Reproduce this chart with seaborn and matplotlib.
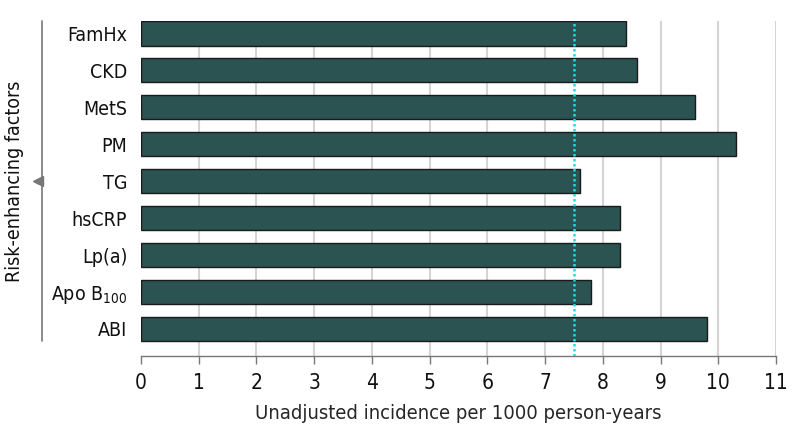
import seaborn as sns
import matplotlib.pyplot as plt
import pandas as pd

# Данные: фактор риска и нескорректированная частота на 1000 человеко-лет
factors = ['FamHx', 'CKD', 'MetS', 'PM', 'TG', 'hsCRP', 'Lp(a)', 'Apo B$_{100}$', 'ABI']
incidence = [8.4, 8.6, 9.6, 10.3, 7.6, 8.3, 8.3, 7.8, 9.8]
reference_line = 7.5
x_ticks = list(range(0, 12))

sns.set_style('white')
plt.rcParams['font.family'] = ['DejaVu Sans']
plt.rcParams['font.stretch'] = 'condensed'
plt.rcParams['mathtext.fontset'] = 'dejavusans'
plt.rcParams['text.color'] = '#111111'
plt.rcParams['xtick.labelcolor'] = '#111111'
plt.rcParams['ytick.labelcolor'] = '#111111'

df = pd.DataFrame({'factor': factors, 'incidence': incidence})

fig = plt.figure(figsize=(7.94, 4.41), dpi=100)
ax = fig.add_axes([0.1776, 0.193, 0.7997, 0.759])

ax.set_axisbelow(True)
for t in x_ticks[1:]:
    ax.axvline(t, color='#d4d4d4', lw=1.5, zorder=0)

sns.barplot(data=df, x='incidence', y='factor', orient='h', color='#2b5352',
            saturation=1, edgecolor='#1a1a1a', linewidth=1, width=0.66, ax=ax)
ax.axvline(reference_line, color='#22d8e8', lw=1.8, ls=(0, (1, 1)), zorder=5)

ax.set_xlim(0, 11)
ax.set_ylim(8.73, -0.33)
ax.set_xticks(x_ticks)
ax.tick_params(axis='x', direction='out', length=6, width=1, color='#777777',
               labelsize=15, pad=6, bottom=True)
ax.tick_params(axis='y', length=0, labelsize=14, pad=10)

for s in ['top', 'right', 'left']:
    ax.spines[s].set_visible(False)
ax.spines['bottom'].set_color('#777777')
ax.spines['bottom'].set_linewidth(1)

ax.set_xlabel('Unadjusted incidence per 1000 person-years', fontsize=14.5, labelpad=8)
ax.set_ylabel('')

# Скобка с подписью оси Y
ax.plot([-0.156, -0.156], [0.045, 1.0], transform=ax.transAxes, color='#777777',
        lw=1.2, clip_on=False)
ax.plot([-0.163], [0.522], transform=ax.transAxes, marker='<', color='#777777',
        markersize=7, clip_on=False)
ax.text(-0.2, 0.522, 'Risk-enhancing factors', transform=ax.transAxes, rotation=90,
        ha='center', va='center', fontsize=14)

plt.savefig('out.png', dpi=100)
